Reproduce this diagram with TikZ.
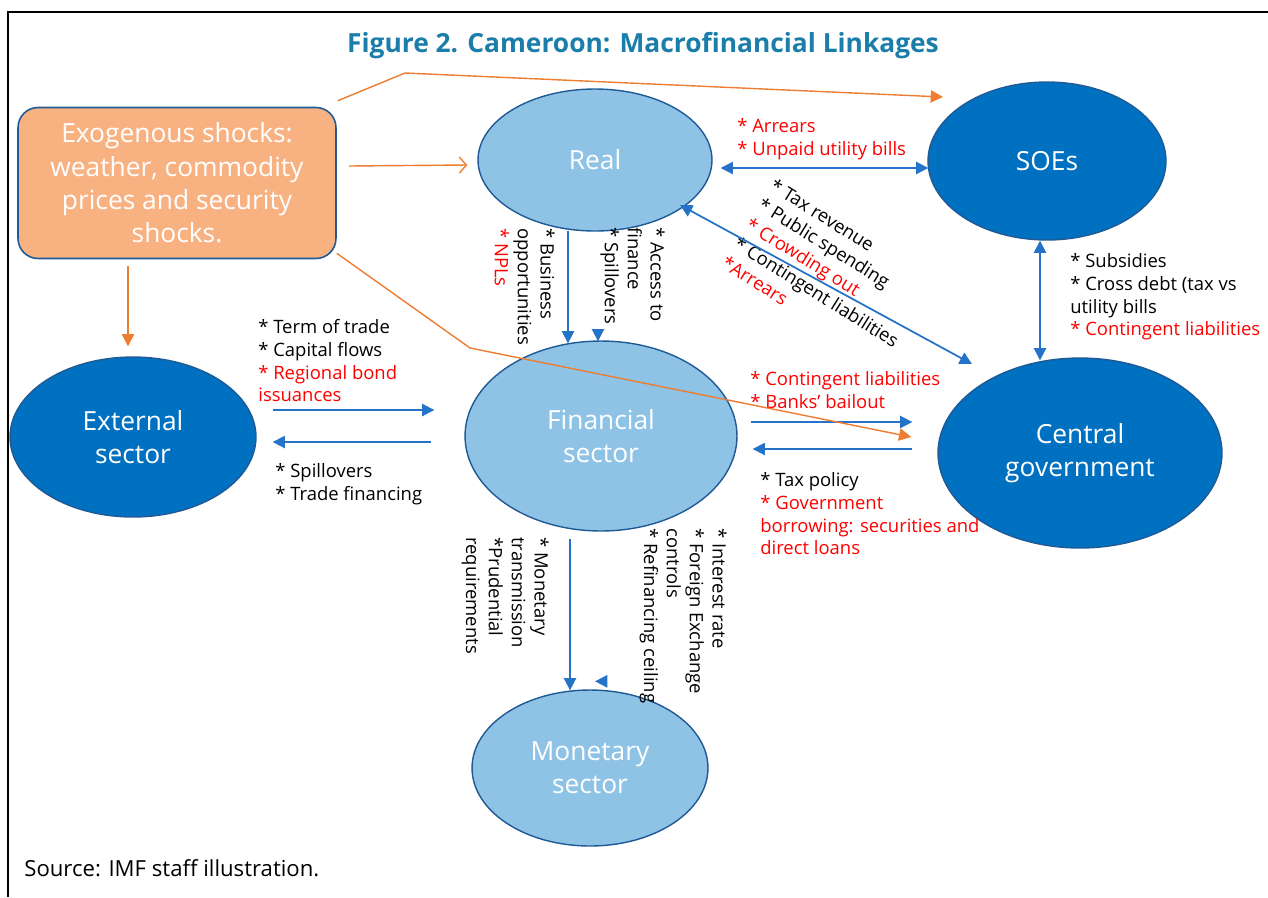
\documentclass[tikz,border=0pt]{standalone}
\usepackage{fontspec}
\setmainfont{Open Sans}
\usepackage{tikz}
\usetikzlibrary{arrows.meta,calc,positioning,shapes}

\definecolor{lightsector}{RGB}{142,195,230}
\definecolor{darksector}{RGB}{0,112,192}
\definecolor{sectoredge}{RGB}{31,90,150}
\definecolor{linkblue}{RGB}{36,115,200}
\definecolor{shockorange}{RGB}{237,125,49}
\definecolor{shockfill}{RGB}{248,178,130}
\definecolor{titleblue}{RGB}{27,125,170}
\definecolor{riskred}{RGB}{255,0,0}

\newcommand{\risk}[1]{\textcolor{riskred}{#1}}

\begin{document}
\begin{tikzpicture}[x=0.02cm,y=-0.02cm,
    sector/.style={ellipse,draw=sectoredge,line width=0.8pt,inner sep=0pt,text=white,align=center,font=\fontsize{15}{19}\selectfont},
    light/.style={sector,fill=lightsector},
    dark/.style={sector,fill=darksector},
    lbl/.style={inner sep=0pt,align=left,font=\fontsize{10.5}{13}\selectfont},
    link/.style={draw=linkblue,line width=1pt,-{Triangle[length=7pt,width=7pt]}},
    twoway/.style={link,{Triangle[length=7pt,width=7pt]}-{Triangle[length=7pt,width=7pt]}},
    shock/.style={draw=shockorange,line width=0.8pt,-{Triangle[length=7pt,width=7pt]}}]
  \useasboundingbox (0,0) rectangle (1268,897);
  \draw[line width=1.1pt] (1268,12) -- (8,12) -- (8,897);

  \node[font=\bfseries\fontsize{15}{17}\selectfont,text=titleblue,anchor=base] (title) at (643,52) {Figure 2. Cameroon: Macrofinancial Linkages};

  % sectors
  \node[rounded corners=0.4cm,draw=sectoredge,line width=0.9pt,fill=shockfill,minimum width=6.36cm,minimum height=3.02cm,
    text=white,align=center,font=\fontsize{15}{19}\selectfont] (shocks) at (177,183) {Exogenous shocks:\\weather, commodity\\prices and security\\shocks.};
  \node[light,minimum width=4.68cm,minimum height=2.84cm] (real) at (595,160) {Real};
  \node[dark,minimum width=4.76cm,minimum height=3.16cm] (soe) at (1047,161) {SOEs};
  \node[dark,minimum width=4.92cm,minimum height=3.2cm] (ext) at (133,437) {External\\sector};
  \node[light,minimum width=5.44cm,minimum height=3.8cm] (fin) at (601,436) {Financial\\sector};
  \node[dark,minimum width=5.68cm,minimum height=3.8cm] (gov) at (1080,453) {Central\\government};
  \node[light,minimum width=4.72cm,minimum height=3.12cm] (mon) at (590,768) {Monetary\\sector};

  % labels
  \node[lbl,anchor=north west] (arrearsl) at (737,118) {\risk{* Arrears}\\\risk{* Unpaid utility bills}};
  \node[lbl,anchor=north west,rotate=-32] (fiscall) at (776,177) {* Tax revenue\\* Public spending\\\risk{* Crowding out}\\* Contingent liabilities\\\risk{*Arrears}};
  \node[lbl,anchor=north west,rotate=-90] (businessl) at (555,228) {* Business\\opportunities\\\risk{* NPLs}};
  \node[lbl,anchor=north west,rotate=-90] (accessl) at (665,227) {* Access to\\finance\\* Spillovers};
  \node[lbl,anchor=north west] (subsl) at (1070,253) {* Subsidies\\* Cross debt (tax vs\\utility bills\\\risk{* Contingent liabilities}};
  \node[lbl,anchor=north west] (tradel) at (258,319) {* Term of trade\\* Capital flows\\\risk{* Regional bond}\\\risk{issuances}};
  \node[lbl,anchor=north west] (spilll) at (275,463) {* Spillovers\\* Trade financing};
  \node[lbl,anchor=north west] (bankl) at (750,371) {\risk{* Contingent liabilities}\\\risk{* Banks' bailout}};
  \node[lbl,anchor=north west] (taxl) at (760,472) {* Tax policy\\\risk{* Government}\\\risk{borrowing: securities and}\\\risk{direct loans}};
  \node[lbl,anchor=north west,rotate=-90] (monl) at (549,537) {* Monetary\\transmission\\*Prudential\\requirements};
  \node[lbl,anchor=north west,rotate=-90] (ratel) at (727,528) {* Interest rate\\* Foreign Exchange\\controls\\* Refinancing ceiling};
  \node[anchor=west,inner sep=0pt,font=\fontsize{12.6}{15}\selectfont] (source) at (24,868) {Source: IMF staff illustration.};

  % blue links
  \draw[twoway] ([shift={(8,8)}]real.east) -- ([shift={(1,7)}]soe.west);
  \draw[link] ([shift={(-27,-1)}]real.south) -- ([shift={(-33,3)}]fin.north);
  \draw[link] ([shift={(-3,-3)}]fin.north) -- ([shift={(-3,1)}]fin.north);
  \draw[twoway] ([shift={(85,45)}]real.center) -- ([shift={(-108,-89)}]gov.center);
  \draw[twoway] ([shift={(-7,0)}]soe.south) -- ([shift={(-40,3)}]gov.north);
  \draw[link] ([shift={(16,-27)}]ext.east) -- ([shift={(-30,-26)}]fin.west);
  \draw[link] ([shift={(-33,6)}]fin.west) -- ([shift={(16,5)}]ext.east);
  \draw[link] ([shift={(13,-14)}]fin.east) -- ([shift={(-25,-31)}]gov.west);
  \draw[link] ([shift={(-25,-4)}]gov.west) -- ([shift={(15,13)}]fin.east);
  \draw[link] ([shift={(-31,7)}]fin.south) -- ([shift={(-20,1)}]mon.north);
  \draw[link] ([shift={(14,-8)}]mon.north) -- ([shift={(5,-8)}]mon.north);

  % orange shocks
  \coordinate (bendsoe) at (405,73);
  \coordinate (bendgov) at (470,348);
  \draw[shock] ([shift={(1,-6)}]shocks.north east) -- (bendsoe) -- ([shift={(-104,-64)}]soe.center);
  \draw[shock,-{Straight Barb[length=4pt,width=9pt]}] ([shift={(12,-17)}]shocks.east) -- ([shift={(-10,5)}]real.west);
  \draw[shock] ([shift={(-49,7)}]shocks.south) -- ([shift={(-5,-10)}]ext.north);
  \draw[shock] ([shift={(0,-6)}]shocks.south east) -- (bendgov) -- ([shift={(-26,-16)}]gov.west);
\end{tikzpicture}
\end{document}
